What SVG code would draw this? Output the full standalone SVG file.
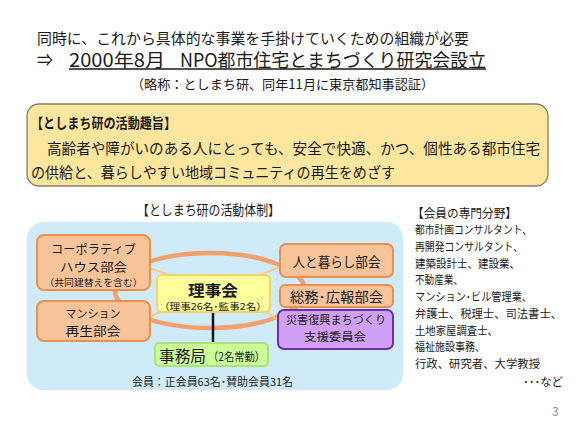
<svg xmlns="http://www.w3.org/2000/svg" width="576" height="432" viewBox="0 0 576 432">
<style>
text { font-family: "Noto Sans CJK JP", "Noto Sans", sans-serif; fill: #1a1a1a; }
.b { font-weight: bold; }
.ob { fill: #F9C49A; stroke: #E8904F; stroke-width: 2; }
.thin { stroke: #F8CB86; stroke-width: 2; fill: none; }
.list { font-size: 11.5px; }
</style>
<rect width="576" height="432" fill="#ffffff"/>

<g id="header">
<text x="37" y="44" font-size="14.5" textLength="432" lengthAdjust="spacingAndGlyphs">同時に、これから具体的な事業を手掛けていくための組織が必要</text>
<text x="37" y="66" font-size="17" textLength="16" lengthAdjust="spacingAndGlyphs">⇒</text>
<text y="66.5" font-size="18.5"><tspan x="69" textLength="96" lengthAdjust="spacingAndGlyphs">2000年8月</tspan><tspan x="180" textLength="306" lengthAdjust="spacingAndGlyphs">NPO都市住宅とまちづくり研究会設立</tspan></text>
<line x1="69" y1="69" x2="486" y2="69" stroke="#1a1a1a" stroke-width="1.3"/>
<text x="131" y="89" font-size="13" textLength="303" lengthAdjust="spacingAndGlyphs">（略称：としまち研、同年11月に東京都知事認証）</text>
</g>

<g id="purpose">
<rect x="27" y="104" width="521" height="82" rx="12" fill="#FFE69E" stroke="#858066" stroke-width="1.3"/>
<text x="31" y="128" font-size="14" class="b" textLength="145" lengthAdjust="spacingAndGlyphs">【としまち研の活動趣旨】</text>
<text x="47" y="154" font-size="15" textLength="493" lengthAdjust="spacingAndGlyphs">高齢者や障がいのある人にとっても、安全で快適、かつ、個性ある都市住宅</text>
<text x="31" y="178" font-size="15" textLength="364" lengthAdjust="spacingAndGlyphs">の供給と、暮らしやすい地域コミュニティの再生をめざす</text>
</g>

<text x="137" y="215" font-size="13.5" textLength="143" lengthAdjust="spacingAndGlyphs">【としまち研の活動体制】</text>

<rect id="panel" x="27" y="222" width="376" height="168" rx="16" fill="#CFEBFA"/>

<g id="connectors">
<ellipse cx="210" cy="290.5" rx="95" ry="37.5" fill="none" stroke="#F3A06B" stroke-width="4.5"/>
<line class="thin" x1="147" y1="267" x2="178" y2="278"/>
<line class="thin" x1="280" y1="267" x2="252" y2="278"/>
<line class="thin" x1="148" y1="318" x2="162" y2="311"/>
<line class="thin" x1="266" y1="311" x2="280" y2="322"/>
<line x1="213" y1="312" x2="213" y2="343" stroke="#111" stroke-width="2.5"/>
</g>

<g id="cooperative">
<rect class="ob" x="37" y="235" width="113" height="55" rx="7"/>
<text x="93.5" y="254" font-size="12" text-anchor="middle" textLength="85" lengthAdjust="spacingAndGlyphs">コーポラティブ</text>
<text x="93.5" y="271.5" font-size="12.5" text-anchor="middle" textLength="67" lengthAdjust="spacingAndGlyphs">ハウス部会</text>
<text x="93.5" y="285.5" font-size="9.5" text-anchor="middle" textLength="98" lengthAdjust="spacingAndGlyphs">（共同建替えを含む）</text>
</g>

<g id="mansion">
<rect class="ob" x="37" y="301" width="113" height="40" rx="7"/>
<text x="93" y="318" font-size="11.5" text-anchor="middle" textLength="55" lengthAdjust="spacingAndGlyphs">マンション</text>
<text x="93" y="335.5" font-size="12.5" text-anchor="middle" textLength="55" lengthAdjust="spacingAndGlyphs">再生部会</text>
</g>

<g id="board">
<rect x="157" y="275" width="113" height="37" rx="5" fill="#FFFF9C" stroke="#F2D46A" stroke-width="2"/>
<text x="213" y="296" font-size="15" class="b" text-anchor="middle" textLength="50" lengthAdjust="spacingAndGlyphs">理事会</text>
<text x="213" y="309.5" font-size="9.5" text-anchor="middle" textLength="108" lengthAdjust="spacingAndGlyphs">（理事26名･監事2名）</text>
</g>

<g id="office">
<rect x="155" y="343" width="113" height="23" rx="4" fill="#CCFF99" stroke="#A8E37C" stroke-width="2"/>
<text x="159" y="362" font-size="15.5" textLength="47" lengthAdjust="spacingAndGlyphs">事務局</text>
<text x="208" y="361" font-size="11.5" textLength="57" lengthAdjust="spacingAndGlyphs">（2名常勤）</text>
</g>

<g id="life">
<rect class="ob" x="280" y="244" width="113" height="33" rx="6"/>
<text x="336.5" y="267" font-size="13.5" text-anchor="middle" textLength="88" lengthAdjust="spacingAndGlyphs">人と暮らし部会</text>
</g>

<g id="general">
<rect class="ob" x="280" y="285" width="113" height="22" rx="5"/>
<text x="336.5" y="301.5" font-size="13.5" text-anchor="middle" textLength="93" lengthAdjust="spacingAndGlyphs">総務･広報部会</text>
</g>

<g id="disaster">
<rect x="278" y="310" width="115" height="39" rx="6" fill="#D0A0F6" stroke="#7030A0" stroke-width="2"/>
<text x="336" y="324" font-size="11" text-anchor="middle" textLength="100" lengthAdjust="spacingAndGlyphs">災害復興まちづくり</text>
<text x="335" y="340.5" font-size="11.5" text-anchor="middle" textLength="62" lengthAdjust="spacingAndGlyphs">支援委員会</text>
</g>

<text x="132" y="386" font-size="11" textLength="161" lengthAdjust="spacingAndGlyphs">会員：正会員63名･賛助会員31名</text>

<g id="members">
<text x="412" y="217.5" font-size="12.5" textLength="105" lengthAdjust="spacingAndGlyphs">【会員の専門分野】</text>
<text class="list" x="415" y="234" textLength="117" lengthAdjust="spacingAndGlyphs">都市計画コンサルタント、</text>
<text class="list" x="415" y="251" textLength="108" lengthAdjust="spacingAndGlyphs">再開発コンサルタント、</text>
<text class="list" x="415" y="267.5" textLength="105" lengthAdjust="spacingAndGlyphs">建築設計士、建設業、</text>
<text class="list" x="415" y="284" textLength="48" lengthAdjust="spacingAndGlyphs">不動産業、</text>
<text class="list" x="415" y="301" textLength="117" lengthAdjust="spacingAndGlyphs">マンション･ビル管理業、</text>
<text class="list" x="415" y="318" textLength="147" lengthAdjust="spacingAndGlyphs">弁護士、税理士、司法書士、</text>
<text class="list" x="415" y="334.5" textLength="83" lengthAdjust="spacingAndGlyphs">土地家屋調査士、</text>
<text class="list" x="415" y="351" textLength="70" lengthAdjust="spacingAndGlyphs">福祉施設事務、</text>
<text class="list" x="415" y="368" textLength="125" lengthAdjust="spacingAndGlyphs">行政、研究者、大学教授</text>
<text class="list" x="523" y="385.5" textLength="40" lengthAdjust="spacingAndGlyphs">･･･など</text>
</g>

<text x="552" y="416" font-size="12" style="fill:#8C8C8C">3</text>
</svg>
